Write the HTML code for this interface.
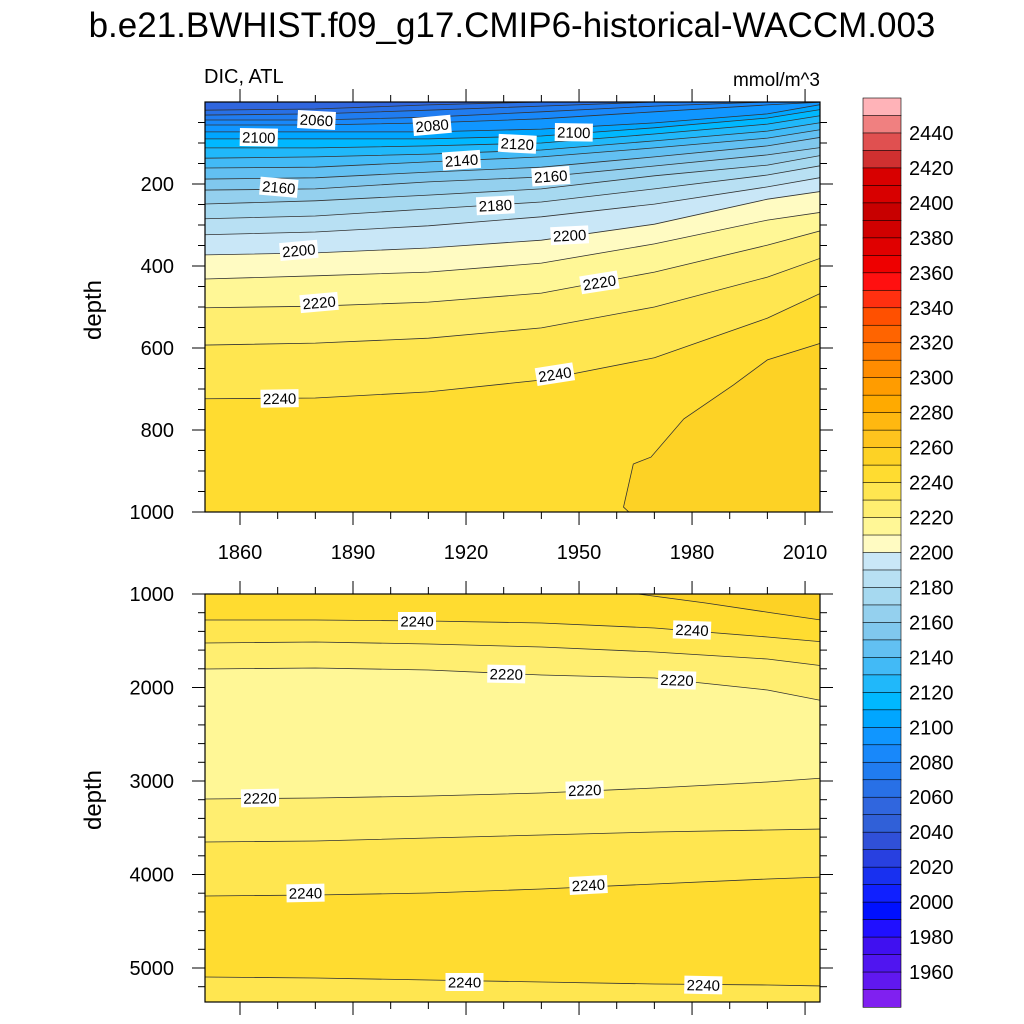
<!DOCTYPE html>
<html><head><meta charset="utf-8"><style>
html,body{margin:0;padding:0;background:#fff;}
svg{display:block;font-family:"Liberation Sans",Arial,sans-serif;}
</style></head><body>
<svg id="chart" width="1024" height="1024" viewBox="0 0 1024 1024" xmlns="http://www.w3.org/2000/svg">
<defs>
<clipPath id="clipTop"><rect x="205" y="102" width="615" height="410"/></clipPath>
<clipPath id="clipBot"><rect x="205" y="594" width="615" height="408"/></clipPath>
</defs>
<text x="512" y="37" font-size="35" text-anchor="middle">b.e21.BWHIST.f09_g17.CMIP6-historical-WACCM.003</text>
<text x="204" y="83" font-size="20">DIC, ATL</text>
<text x="820" y="86" font-size="19" text-anchor="end">mmol/m^3</text>
<g id="topFill" clip-path="url(#clipTop)"></g>
<g id="botFill" clip-path="url(#clipBot)"></g>
<g id="axes"></g>
<g id="cbar"></g>
<text transform="translate(101,310) rotate(-90)" font-size="24" text-anchor="middle">depth</text>
<text transform="translate(101,800) rotate(-90)" font-size="24" text-anchor="middle">depth</text>
</svg>
<script>
// ---- data ----
const years = [1850, 1880, 1910, 1940, 1970, 2000, 2015];
const topLevels = [2060,2070,2080,2090,2100,2110,2120,2130,2140,2150,2160,2170,2180,2190,2200,2210,2220,2230,2240];
const topDepths = [
[20,17,7,0,0,0,0],
[32,29,20,10,0,0,0],
[44,44,37,24,10,0,0],
[56,56,51,41,24,7,0],
[73,73,73,66,51,29,5],
[90,90,90,83,63,39,17],
[112,112,107,100,78,54,32],
[137,134,127,117,95,71,49],
[161,159,146,134,112,88,66],
[188,185,171,159,134,107,85],
[215,212,195,183,156,129,110],
[249,241,227,212,180,154,129],
[285,278,261,244,212,178,154],
[324,317,302,280,249,207,183],
[373,368,356,337,298,237,217],
[432,424,415,393,346,288,268],
[502,498,488,466,415,349,312],
[593,588,576,551,500,427,378],
[724,722,707,678,624,527,463]
];
const c2250Years = [2016, 2000, 1991, 1977.8, 1969.1, 1964.4, 1961.8, 1964.4];
const c2250Depths = [583, 629, 690, 773, 866, 883, 988, 1010];
const botLineLevels = [2240, 2230, 2220, 2220, 2230, 2240, 2240];
const botBandBelow = [2230, 2220, 2210, 2220, 2230, 2240, 2230];
const botDepths = [
[1278,1278,1289,1310,1364,1460,1513],
[1524,1513,1535,1567,1620,1695,1770],
[1802,1791,1813,1866,1898,2027,2144],
[3193,3182,3160,3128,3075,3011,2968],
[3652,3642,3610,3578,3545,3524,3513],
[4230,4219,4198,4155,4102,4048,4027],
[5096,5107,5128,5150,5171,5182,5192]
];
const b2250Years = [1965.6, 1983.6, 2001.4, 2016];
const b2250Depths = [1000, 1096, 1203, 1289];
const topLabelText = ["2060","2100","2080","2120","2100","2140","2160","2160","2180","2200","2200","2220","2220","2240","2240"];
const topLabelYears = [1880.3,1865,1911,1933.6,1948.6,1918.8,1870.3,1942.5,1927.8,1875.6,1947.5,1881,1955.4,1870.5,1943.6];
const topLabelDepths = [44,86,57,102,74,142,208,181,252,362,325,489,440,723,664];
const topLabelAngles = [3,1,-5,3,1,-4,5,-4,-3,-5,-3,-5,-9,-1,-9];
const botLabelText = ["2240","2240","2220","2220","2220","2220","2240","2240","2240","2240"];
const botLabelYears = [1907,1980,1930.7,1976,1865.3,1951.5,1877.4,1952.5,1919.6,1983];
const botLabelDepths = [1289,1385,1856,1920,3182,3096,4198,4112,5150,5182];
const botLabelAngles = [0,2,1,2,-1,-2,-1,-3,0,1];
const cbLevels = [];
for (let v = 1950; v <= 2450; v += 10) cbLevels.push(v);
const cbColors = ["#8020F0","#6018F0","#5015F0","#4010F0","#2010FF","#0010FF","#1020FF","#1830F0","#2840E0","#3050D8","#3060D8","#3066DE","#2870E6","#207CF0","#1888FA","#1096FF","#00A6FF","#00B8FF","#20B8FA","#42BAF6","#62C0F2","#80C8EE","#94D0EE","#A6D9F0","#B8E0F3","#C9E7F7","#FFFBC2","#FFF796","#FFEE70","#FFE650","#FFDC30","#FDD225","#FFC41E","#FFB810","#FFAA00","#FF9C00","#FF8C00","#FF7800","#FF6400","#FF5000","#FF3010","#FF1010","#EE0000","#E00000","#D00000","#C80000","#D03030","#E05050","#F08080","#FFB3B8"];
while (cbColors.length < cbLevels.length + 1) cbColors.splice(46, 0, "#D80000");
const xTicks = [1860,1890,1920,1950,1980,2010];
const topYTicks = [200,400,600,800,1000];
const botYTicks = [1000,2000,3000,4000,5000];

// ---- scales ----
const xS = y => 240 + (y - 1860) * 3.767;
const yTop = d => 102 + d * 0.41;
const yBot = d => 594 + (d - 1000) * 0.0935;
function bandColor(v){ const i = Math.round((v - 1940) / 10); return cbColors[Math.max(0, Math.min(cbColors.length-1, i))]; }
const NS = "http://www.w3.org/2000/svg";
function mk(tag, attrs, parent){ const e = document.createElementNS(NS, tag); for (const k in attrs) e.setAttribute(k, attrs[k]); parent.appendChild(e); return e; }
function linePts(ys, ds, yf){ return ys.map((yr,i)=>xS(yr).toFixed(1)+","+yf(ds[i]).toFixed(1)); }

// ---- top panel ----
const tf = document.getElementById("topFill");
const bg = mk("rect",{x:205,y:102,width:615,height:410,fill:bandColor(2240)},tf);


for (let i = topLevels.length - 1; i >= 0; i--) {
  const pts = linePts(years, topDepths[i], yTop);
  const poly = mk("polygon",{points: xS(years[0])+","+(yTop(0)-5)+" "+pts.join(" ")+" "+xS(years[years.length-1])+","+(yTop(0)-5), fill: bandColor(topLevels[i]-10)}, tf);
  
  
}
const p2250 = mk("polygon",{points: linePts(c2250Years,c2250Depths,yTop).join(" ")+" "+xS(2016)+","+yTop(1010), fill: bandColor(2250), stroke:"#333", "stroke-width":0.8}, tf);


for (let i = 0; i < topLevels.length; i++) {
  const l = mk("polyline",{points: linePts(years, topDepths[i], yTop).join(" "), fill:"none", stroke:"#333", "stroke-width":0.8}, tf);
  
  
}

// ---- bottom panel ----
const bf = document.getElementById("botFill");
const bg2 = mk("rect",{x:205,y:594,width:615,height:408,fill:bandColor(2240)},bf);


for (let i = 0; i < botDepths.length; i++) {
  const pts = linePts(years, botDepths[i], yBot);
  const poly = mk("polygon",{points: pts.join(" ")+" "+xS(years[years.length-1])+",1010 "+xS(years[0])+",1010", fill: bandColor(botBandBelow[i])}, bf);
  
  
}
const bp = mk("polygon",{points: linePts(b2250Years,b2250Depths,yBot).join(" ")+" "+xS(2016)+","+yBot(900)+" "+xS(1965.6)+","+yBot(900), fill: bandColor(2250)}, bf);


const bl = mk("polyline",{points: linePts(b2250Years,b2250Depths,yBot).join(" "), fill:"none", stroke:"#333","stroke-width":0.8}, bf);


for (let i = 0; i < botDepths.length; i++) {
  const l = mk("polyline",{points: linePts(years, botDepths[i], yBot).join(" "), fill:"none", stroke:"#333", "stroke-width":0.8}, bf);
  
  
}

// ---- contour labels ----
function addLabel(parent, txt, x, y, ang, name){
  const g = mk("g",{transform:"translate("+x.toFixed(1)+","+y.toFixed(1)+") rotate("+ang+")"}, parent);
  
  
  mk("rect",{x:-19,y:-9,width:38,height:18,fill:"#fff"}, g);
  const t = mk("text",{x:0,y:5.5,"font-size":15,"text-anchor":"middle",fill:"#000"}, g);
  t.textContent = txt;
}
for (let i = 0; i < topLabelText.length; i++) addLabel(tf, topLabelText[i], xS(topLabelYears[i]), yTop(topLabelDepths[i]), topLabelAngles[i], 'top-contour-label');
for (let i = 0; i < botLabelText.length; i++) addLabel(bf, botLabelText[i], xS(botLabelYears[i]), yBot(botLabelDepths[i]), botLabelAngles[i], 'bottom-contour-label');

// ---- axes ----
const ax = document.getElementById("axes");
function frame(y0, y1, name){
  const r = mk("rect",{x:205,y:y0,width:615,height:y1-y0,fill:"none",stroke:"#000","stroke-width":1.2}, ax);
  
  
}
frame(102, 512, 'top-panel-frame');
frame(594, 1002, 'bottom-panel-frame');
function tick(x1,y1,x2,y2){ mk("line",{x1:x1,y1:y1,x2:x2,y2:y2,stroke:"#000","stroke-width":1}, ax); }
for (let yr = 1860; yr <= 2010; yr += 10) {
  const x = xS(yr), major = xTicks.includes(yr), L = major ? 13 : 7;
  tick(x,102,x,102-L); tick(x,512,x,512+L); tick(x,594,x,594-L); tick(x,1002,x,1002+L);
}
for (const yr of xTicks) {
  const t = mk("text",{x:xS(yr),y:559,"font-size":20,"text-anchor":"middle"}, ax);
  
  
  t.textContent = yr;
}
for (let d = 50; d <= 1000; d += 50) {
  const y = yTop(d), major = topYTicks.includes(d), L = major ? 13 : 7;
  tick(205,y,205-L,y); tick(820,y,820+L,y);
}
for (const d of topYTicks) {
  const t = mk("text",{x:174,y:yTop(d)+7,"font-size":20,"text-anchor":"end"}, ax);
  
  
  t.textContent = d;
}
for (let d = 1000; d <= 5300; d += 200) {
  const y = yBot(d), major = botYTicks.includes(d), L = major ? 13 : 7;
  tick(205,y,205-L,y); tick(820,y,820+L,y);
}
for (const d of botYTicks) {
  const t = mk("text",{x:174,y:yBot(d)+7,"font-size":20,"text-anchor":"end"}, ax);
  
  
  t.textContent = d;
}

// ---- colorbar ----
const cb = document.getElementById("cbar");
const nBox = cbLevels.length + 1, cbTop = 98, bh = (1007 - 98) / nBox;
for (let k = 0; k < nBox; k++) {
  const idx = nBox - 1 - k;
  const r = mk("rect",{x:863,y:(cbTop+k*bh).toFixed(2),width:38,height:(bh+0.3).toFixed(2),fill:cbColors[idx],stroke:"#000","stroke-width":0.6}, cb);
  
  
}
for (let k = 1; k < nBox; k++) {
  const v = cbLevels[nBox - 1 - k];
  if ((v - 1960) % 20 !== 0) continue;
  const t = mk("text",{x:909,y:(cbTop + k*bh + 7).toFixed(1),"font-size":20}, cb);
  
  
  t.textContent = v;
}
</script>
</body></html>
